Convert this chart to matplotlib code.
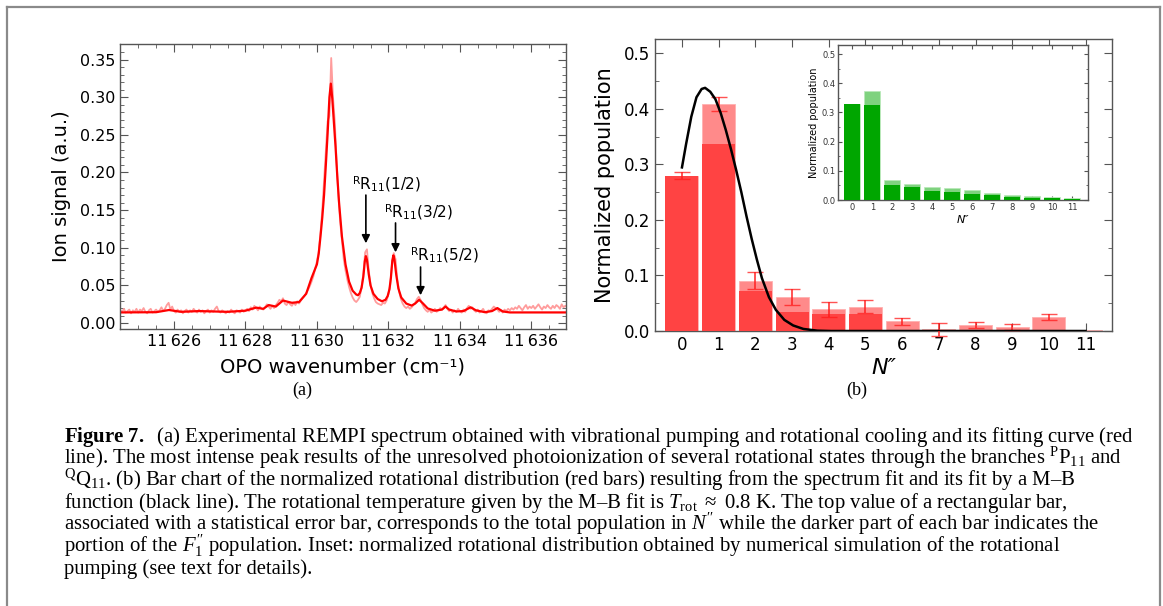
"""
Figura 7: espectro REMPI (a) e distribuicao rotacional normalizada (b).
Saida: out.png
"""

import matplotlib
matplotlib.use("Agg")
import matplotlib.pyplot as plt
import numpy as np
from matplotlib.lines import Line2D
from matplotlib.ticker import MultipleLocator

plt.rcParams.update({
    "font.family": ["DejaVu Sans"],
    "mathtext.fontset": "custom",
    "mathtext.rm": "Liberation Serif",
    "mathtext.it": "Liberation Serif:italic",
    "mathtext.bf": "Liberation Serif:bold",
    "mathtext.sf": "DejaVu Sans",
})

# ---------------- dados (a): espectro ----------------
WN_START, WN_STEP = 11624.5, 0.05
SINAL_EXP = [
    0.017, 0.015, 0.019, 0.014, 0.016, 0.018, 0.013, 0.017, 0.015, 0.019,
    0.014, 0.018, 0.016, 0.020, 0.015, 0.013, 0.017, 0.019, 0.014, 0.016,
    0.018, 0.015, 0.017, 0.021, 0.016, 0.019, 0.024, 0.027, 0.018, 0.022,
    0.016, 0.014, 0.018, 0.015, 0.017, 0.013, 0.016, 0.018, 0.014, 0.017,
    0.015, 0.019, 0.016, 0.014, 0.018, 0.015, 0.017, 0.013, 0.016, 0.018,
    0.014, 0.017, 0.015, 0.019, 0.022, 0.016, 0.014, 0.017, 0.015, 0.013,
    0.016, 0.014, 0.018, 0.015, 0.013, 0.017, 0.016, 0.014, 0.018, 0.015,
    0.017, 0.019, 0.016, 0.021, 0.018, 0.023, 0.020, 0.017, 0.022, 0.019,
    0.018, 0.021, 0.025, 0.022, 0.019, 0.023, 0.020, 0.024, 0.027, 0.031,
    0.029, 0.033, 0.026, 0.024, 0.028, 0.025, 0.023, 0.027, 0.024, 0.029,
    0.026, 0.030, 0.033, 0.036, 0.040, 0.044, 0.049, 0.055, 0.062, 0.072,
    0.082, 0.095, 0.120, 0.150, 0.190, 0.230, 0.268, 0.275, 0.352, 0.300,
    0.268, 0.215, 0.170, 0.135, 0.110, 0.085, 0.070, 0.058, 0.048, 0.040,
    0.034, 0.030, 0.028, 0.031, 0.035, 0.048, 0.066, 0.094, 0.098, 0.070,
    0.052, 0.040, 0.033, 0.028, 0.026, 0.025, 0.024, 0.027, 0.026, 0.030,
    0.038, 0.050, 0.078, 0.093, 0.085, 0.058, 0.042, 0.032, 0.026, 0.022,
    0.020, 0.022, 0.019, 0.021, 0.024, 0.027, 0.032, 0.035, 0.031, 0.025,
    0.020, 0.017, 0.015, 0.018, 0.014, 0.016, 0.019, 0.015, 0.017, 0.020,
    0.018, 0.021, 0.024, 0.019, 0.016, 0.018, 0.014, 0.017, 0.015, 0.019,
    0.016, 0.014, 0.018, 0.015, 0.020, 0.023, 0.019, 0.021, 0.017, 0.015,
    0.018, 0.014, 0.016, 0.019, 0.015, 0.013, 0.017, 0.016, 0.019, 0.022,
    0.020, 0.018, 0.015, 0.017, 0.014, 0.018, 0.016, 0.019, 0.017, 0.020,
    0.018, 0.021, 0.019, 0.023, 0.020, 0.017, 0.021, 0.024, 0.019, 0.022,
    0.020, 0.023, 0.019, 0.022, 0.025, 0.021, 0.018, 0.022, 0.020, 0.024,
    0.021, 0.019, 0.023, 0.020, 0.024, 0.022, 0.019, 0.025, 0.021, 0.023,
    0.022,
]
WN_FIT = [
    11624.5, 11625.5, 11625.86, 11626.2, 11626.7, 11627.5, 11628.0, 11628.3,
    11628.5, 11628.65, 11628.85, 11629.05, 11629.3, 11629.5, 11629.7, 11629.85,
    11629.9, 11630.0, 11630.05, 11630.1, 11630.15, 11630.2, 11630.25, 11630.3,
    11630.35, 11630.39, 11630.43, 11630.47, 11630.52, 11630.57, 11630.62, 11630.7,
    11630.8, 11630.9, 11631.0, 11631.1, 11631.15, 11631.2, 11631.25, 11631.3,
    11631.34, 11631.37, 11631.4, 11631.45, 11631.5, 11631.58, 11631.7, 11631.82,
    11631.92, 11631.98, 11632.03, 11632.07, 11632.11, 11632.14, 11632.17, 11632.22,
    11632.28, 11632.36, 11632.5, 11632.65, 11632.75, 11632.86, 11632.97, 11633.1,
    11633.3, 11633.5, 11633.6, 11633.7, 11633.9, 11634.1, 11634.3, 11634.45,
    11634.7, 11634.9, 11635.05, 11635.2, 11635.4, 11637.0,
]
SINAL_FIT = [
    0.0142, 0.0145, 0.0174, 0.0150, 0.0160, 0.0150, 0.0165, 0.0206,
    0.0190, 0.0240, 0.0220, 0.0300, 0.0270, 0.0280, 0.0390, 0.0600,
    0.0660, 0.0780, 0.0920, 0.1150, 0.1400, 0.1700, 0.2100, 0.2520,
    0.3000, 0.3180, 0.2980, 0.2700, 0.2350, 0.1950, 0.1600, 0.1150,
    0.0780, 0.0550, 0.0430, 0.0380, 0.0370, 0.0400, 0.0470, 0.0620,
    0.0820, 0.0890, 0.0840, 0.0650, 0.0500, 0.0390, 0.0320, 0.0290,
    0.0310, 0.0360, 0.0450, 0.0600, 0.0830, 0.0900, 0.0840, 0.0640,
    0.0460, 0.0340, 0.0260, 0.0233, 0.0260, 0.0310, 0.0260, 0.0195,
    0.0165, 0.0180, 0.0220, 0.0180, 0.0155, 0.0160, 0.0210, 0.0170,
    0.0145, 0.0160, 0.0200, 0.0155, 0.0142, 0.0142,
]
# (texto, x do texto, y base do texto, x da seta, y cauda, y ponta)
ROTULOS = [
    ("1/2", 11630.97, 0.178, 11631.37, 0.170, 0.106),
    ("3/2", 11631.88, 0.140, 11632.20, 0.133, 0.094),
    ("5/2", 11632.60, 0.0836, 11632.90, 0.0745, 0.037),
]

# ---------------- dados (b): populacoes ----------------
N_ROT = list(range(12))
POP_TOTAL = [0.280, 0.409, 0.0906, 0.0608, 0.039, 0.044, 0.0174, 0.003, 0.011, 0.0074, 0.0254, 0.002]
POP_F1 = [0.280, 0.3375, 0.0713, 0.034, 0.031, 0.0304, 0.0, 0.0, 0.0, 0.0, 0.0, 0.0]
POP_ERRO = [0.006, 0.012, 0.015, 0.014, 0.014, 0.012, 0.006, 0.0115, 0.005, 0.006, 0.006, 0.0]
MB_N = [0.0, 0.113, 0.254, 0.395, 0.536, 0.63, 0.771, 0.912, 1.054, 1.195, 1.336, 1.477,
        1.618, 1.759, 1.90, 2.04, 2.18, 2.37, 2.56, 2.79, 3.03, 3.31, 3.69, 4.06, 11.0]
MB_POP = [0.2947, 0.337, 0.386, 0.421, 0.436, 0.438, 0.431, 0.4175, 0.393, 0.362, 0.3275, 0.290,
          0.250, 0.2066, 0.166, 0.129, 0.095, 0.061, 0.038, 0.020, 0.010, 0.0037, 0.0006, 0.0, 0.0]

# inset: simulacao
SIM_TOTAL = [0.329, 0.372, 0.068, 0.055, 0.0456, 0.041, 0.034, 0.025, 0.018, 0.0148, 0.009, 0.0068]
SIM_F1 = [0.329, 0.327, 0.052, 0.043, 0.032, 0.026, 0.0216, 0.016, 0.0114, 0.008, 0.007, 0.0045]

LEGENDA = [
    r"$\mathbf{Figure\ 7.}$  (a) Experimental REMPI spectrum obtained with vibrational pumping and rotational cooling and its fitting curve (red",
    r"line). The most intense peak results of the unresolved photoionization of several rotational states through the branches $^{\mathrm{P}}\mathrm{P}_{11}$ and",
    r"$^{\mathrm{Q}}\mathrm{Q}_{11}$. (b) Bar chart of the normalized rotational distribution (red bars) resulting from the spectrum fit and its fit by a M–B",
    r"function (black line). The rotational temperature given by the M–B fit is $T_{\mathrm{rot}}\ \approx\ 0.8$ K. The top value of a rectangular bar,",
    r"associated with a statistical error bar, corresponds to the total population in $N^{\prime\prime}$ while the darker part of each bar indicates the",
    r"portion of the $F_1^{\prime\prime}$ population. Inset: normalized rotational distribution obtained by numerical simulation of the rotational",
    "pumping (see text for details).",
]

W, H = 1163, 606
CINZA_EIXO = "#555555"


def caixa(l, t, r, b):
    return [l / W, 1 - b / H, (r - l) / W, (b - t) / H]


def estilo_moldura(ax, tam=11, comp=(6, 3)):
    for s in ax.spines.values():
        s.set_color(CINZA_EIXO)
        s.set_linewidth(1.0)
    ax.tick_params(which="both", direction="in", top=True, right=True, colors=CINZA_EIXO,
                   labelcolor="black", labelsize=tam)
    ax.tick_params(which="major", length=comp[0], width=0.8)
    ax.tick_params(which="minor", length=comp[1], width=0.6)


def main() -> None:
    fig = plt.figure(figsize=(W / 100, H / 100), dpi=100)

    # ---------- (a) ----------
    ax = fig.add_axes(caixa(120, 44, 566, 329))
    wn_exp = WN_START + WN_STEP * np.arange(len(SINAL_EXP))
    ax.plot(wn_exp, SINAL_EXP, color="#ff9c9c", lw=1.3)
    ax.plot(WN_FIT, SINAL_FIT, color="#ff0000", lw=1.6)
    for frac, xt, yt, xa, y0, y1 in ROTULOS:
        ax.text(xt, yt, r"$^{\mathsf{R}}\mathsf{R}_{\mathsf{11}}$" + f"({frac})", fontsize=11,
                ha="left", va="baseline")
        ax.annotate("", xy=(xa, y1), xytext=(xa, y0),
                    arrowprops=dict(arrowstyle="-|>", color="black", lw=1.2,
                                    mutation_scale=12, shrinkA=0, shrinkB=0))
    ax.set_xlim(11624.49, 11636.97)
    ax.set_ylim(-0.0078, 0.3706)
    ax.xaxis.set_minor_locator(MultipleLocator(0.5))
    ax.yaxis.set_minor_locator(MultipleLocator(0.01))
    ax.set_xticks(np.arange(11626, 11637, 2))
    ax.set_xticklabels([f"{v // 1000}\u2009{v % 1000:03d}" for v in range(11626, 11637, 2)])
    ax.set_yticks(np.arange(0, 0.351, 0.05))
    ax.set_yticklabels([f"{v:.2f}" for v in np.arange(0, 0.351, 0.05)])
    estilo_moldura(ax, tam=11.5)
    ax.set_ylabel("Ion signal (a.u.)", fontsize=14, labelpad=6)
    ax.set_xlabel("OPO wavenumber (cm\u207b\u00b9)", fontsize=14, labelpad=6)

    # ---------- (b) ----------
    bx = fig.add_axes(caixa(655, 39, 1112, 331))
    bx.bar(N_ROT, POP_TOTAL, width=0.9, color="#ff8a8a", edgecolor="#ffb0b0", lw=0.6, zorder=2)
    bx.bar(N_ROT, POP_F1, width=0.9, color="#ff4343", edgecolor="none", zorder=3)
    idx = [i for i in N_ROT if POP_ERRO[i] > 0]
    bx.errorbar([N_ROT[i] for i in idx], [POP_TOTAL[i] for i in idx],
                yerr=[POP_ERRO[i] for i in idx], fmt="none", ecolor=(1, 0.1, 0.1, 0.75),
                elinewidth=1.4, capsize=6, capthick=1.0, zorder=4, clip_on=False)
    bx.plot(MB_N, MB_POP, color="black", lw=1.8, zorder=5)
    bx.set_xlim(-0.735, 11.72)
    bx.set_ylim(0, 0.526)
    bx.set_xticks(N_ROT)
    bx.yaxis.set_minor_locator(MultipleLocator(0.05))
    bx.set_yticks(np.arange(0, 0.51, 0.1))
    bx.set_yticklabels([f"{v:.1f}" for v in np.arange(0, 0.51, 0.1)])
    estilo_moldura(bx, tam=12)
    bx.set_ylabel("Normalized population", fontsize=15, labelpad=6)
    bx.set_xlabel("N\u2033", fontsize=16, style="italic", labelpad=3)

    # inset
    ix = fig.add_axes(caixa(838, 45, 1088, 200))
    ix.bar(N_ROT, SIM_TOTAL, width=0.8, color="#7fd27f", edgecolor="#b8e8b8", lw=0.5, zorder=2)
    ix.bar(N_ROT, SIM_F1, width=0.8, color="#00a600", edgecolor="none", zorder=3)
    ix.set_xlim(-0.72, 11.8)
    ix.set_ylim(0, 0.531)
    ix.set_xticks(N_ROT)
    ix.yaxis.set_minor_locator(MultipleLocator(0.05))
    ix.set_yticks(np.arange(0, 0.51, 0.1))
    ix.set_yticklabels([f"{v:.1f}" for v in np.arange(0, 0.51, 0.1)])
    estilo_moldura(ix, tam=6, comp=(3, 1.5))
    ix.tick_params(labelcolor="#333333", pad=2)
    ix.set_ylabel("Normalized population", fontsize=7, labelpad=2)
    ix.set_xlabel("N\u2033", fontsize=8, style="italic", labelpad=2)

    # rotulos dos paineis
    fig.text(302 / W, 1 - 390 / H, "(a)", family="Liberation Serif", fontsize=13,
             ha="center", va="center")
    fig.text(857 / W, 1 - 390 / H, "(b)", family="Liberation Serif", fontsize=13,
             ha="center", va="center")

    # legenda da figura, ajustada para a largura da primeira linha
    bases = [442, 464, 486, 508, 530, 552, 574]
    tam = 13.5
    textos = [fig.text(64 / W, 1 - y / H, s, family="Liberation Serif", fontsize=tam,
                       ha="left", va="baseline") for s, y in zip(LEGENDA, bases)]
    fig.canvas.draw()
    larg = textos[0].get_window_extent().width
    novo = tam * (1133 - 64) / larg
    for t in textos:
        t.set_fontsize(novo)

    # moldura externa
    for xs, ys in [([7, 7], [606, 7]), ([7, 1160], [7, 7]), ([1160, 1160], [7, 606])]:
        fig.add_artist(Line2D([x / W for x in xs], [1 - y / H for y in ys],
                              transform=fig.transFigure, color="#8a8a8a", lw=1.6))

    fig.savefig("out.png", dpi=100)
    plt.close(fig)


if __name__ == "__main__":
    main()
